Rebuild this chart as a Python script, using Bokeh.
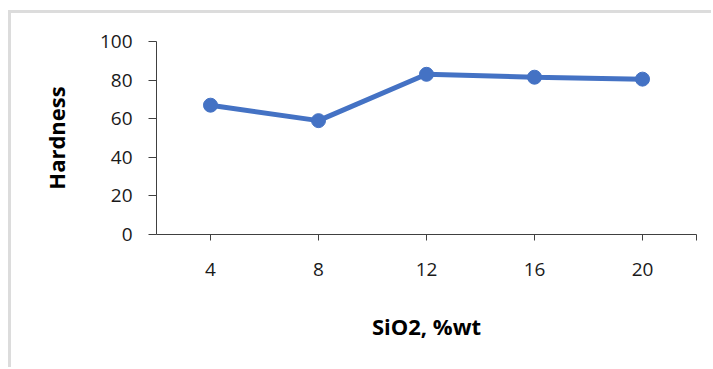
from bokeh.plotting import figure
from bokeh.models import Range1d, FixedTicker
from bokeh.embed import file_html
from bokeh.resources import INLINE

sio2 = [4, 8, 12, 16, 20]
hardness = [67, 59, 83, 81.5, 80.5]
y_ticks = [0, 20, 40, 60, 80, 100]

BLUE = "#4472C4"
AXIS = "#404040"
FONT = "Open Sans"

p = figure(width=700, height=354, output_backend="svg", toolbar_location=None,
           x_range=Range1d(2, 22), y_range=Range1d(0, 100))
p.frame_width = 540
p.frame_height = 193
p.min_border_left = 145
p.min_border_right = 15
p.min_border_top = 28
p.min_border_bottom = 133
p.outline_line_color = None
p.xgrid.visible = False
p.ygrid.visible = False
p.styles = {"border-left": "3px solid #dcdcdc", "border-top": "3px solid #dcdcdc",
            "margin-left": "8px", "margin-top": "10px"}

p.line(sio2, hardness, line_color=BLUE, line_width=5)
p.scatter(sio2, hardness, size=14, fill_color=BLUE, line_color=BLUE)

p.xaxis.ticker = FixedTicker(ticks=sio2 + [22])
p.xaxis.major_label_overrides = {22: ""}
p.yaxis.ticker = FixedTicker(ticks=y_ticks)

for ax in (p.xaxis[0], p.yaxis[0]):
    ax.axis_line_color = AXIS
    ax.major_tick_line_color = AXIS
    ax.minor_tick_line_color = None
    ax.major_tick_in = 0
    ax.major_label_text_font = FONT
    ax.major_label_text_font_size = "19px"
    ax.major_label_text_color = "#1a1a1a"
    ax.axis_label_text_font = FONT
    ax.axis_label_text_font_style = "bold"
    ax.axis_label_text_font_size = "22px"
    ax.axis_label_text_color = "#000000"

p.xaxis.major_tick_out = 6
p.yaxis.major_tick_out = 8
p.xaxis.major_label_standoff = 22
p.yaxis.major_label_standoff = 16
p.xaxis.axis_label = "SiO2, %wt"
p.yaxis.axis_label = "Hardness"
p.xaxis.axis_label_standoff = 32
p.yaxis.axis_label_standoff = 26

open("out.html", "w").write(file_html(p, INLINE))
